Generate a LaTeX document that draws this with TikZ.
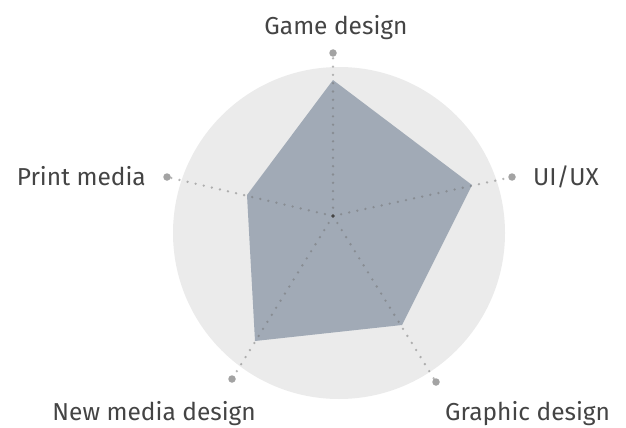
\documentclass[tikz,border=0pt]{standalone}
\usepackage{fontspec}
\setmainfont{Fira Sans}
\usepackage{xcolor}
\usepackage{tikz}
\usetikzlibrary{positioning}
\definecolor{discgray}{HTML}{EBEBEB}
\definecolor{areagray}{HTML}{A1AAB6}
\definecolor{dotgray}{HTML}{A3A3A3}
\definecolor{linegray}{HTML}{707070}
\definecolor{labelgray}{HTML}{444444}
\begin{document}
\begin{tikzpicture}[x=1pt,y=-1pt,
  axisline/.style={linegray,opacity=0.5,line width=2.6pt,line cap=round,dash pattern=on 0pt off 8.3pt},
  enddot/.style={circle,fill=dotgray,inner sep=0pt,minimum size=7.5pt},
  label/.style={text=labelgray,inner sep=0pt,font=\fontsize{24.5}{29}\selectfont}]
\useasboundingbox (0,0) rectangle (626,428);
\fill[discgray] (339,233) circle (166);
\coordinate (ctr) at (333,216);
\fill[areagray] (333,80) -- (472,185) -- (402,325) -- (255,341) -- (247,195) -- cycle;
\node[enddot] (dGame) at (333,53) {};
\node[enddot] (dUI) at (512,177) {};
\node[enddot] (dGraphic) at (436,382) {};
\node[enddot] (dNew) at (232,379) {};
\node[enddot] (dPrint) at (167,177) {};
\draw[axisline] (ctr) -- (dGame);
\draw[axisline] (ctr) -- (dUI);
\draw[axisline] (ctr) -- (dGraphic);
\draw[axisline] (ctr) -- (dNew);
\draw[axisline] (ctr) -- (dPrint);
\fill[labelgray] (ctr) circle (1.8);
\node[label,anchor=base] (lGame) at (336,35) {Game design};
\node[label,anchor=base west] (lUI) at (533,185) {UI/UX};
\node[label,anchor=base east] (lPrint) at (146,185) {Print media};
\node[label,anchor=base east] (lNew) at (256,420) {New media design};
\node[label,anchor=base west] (lGraphic) at (445,420) {Graphic design};
\end{tikzpicture}
\end{document}
